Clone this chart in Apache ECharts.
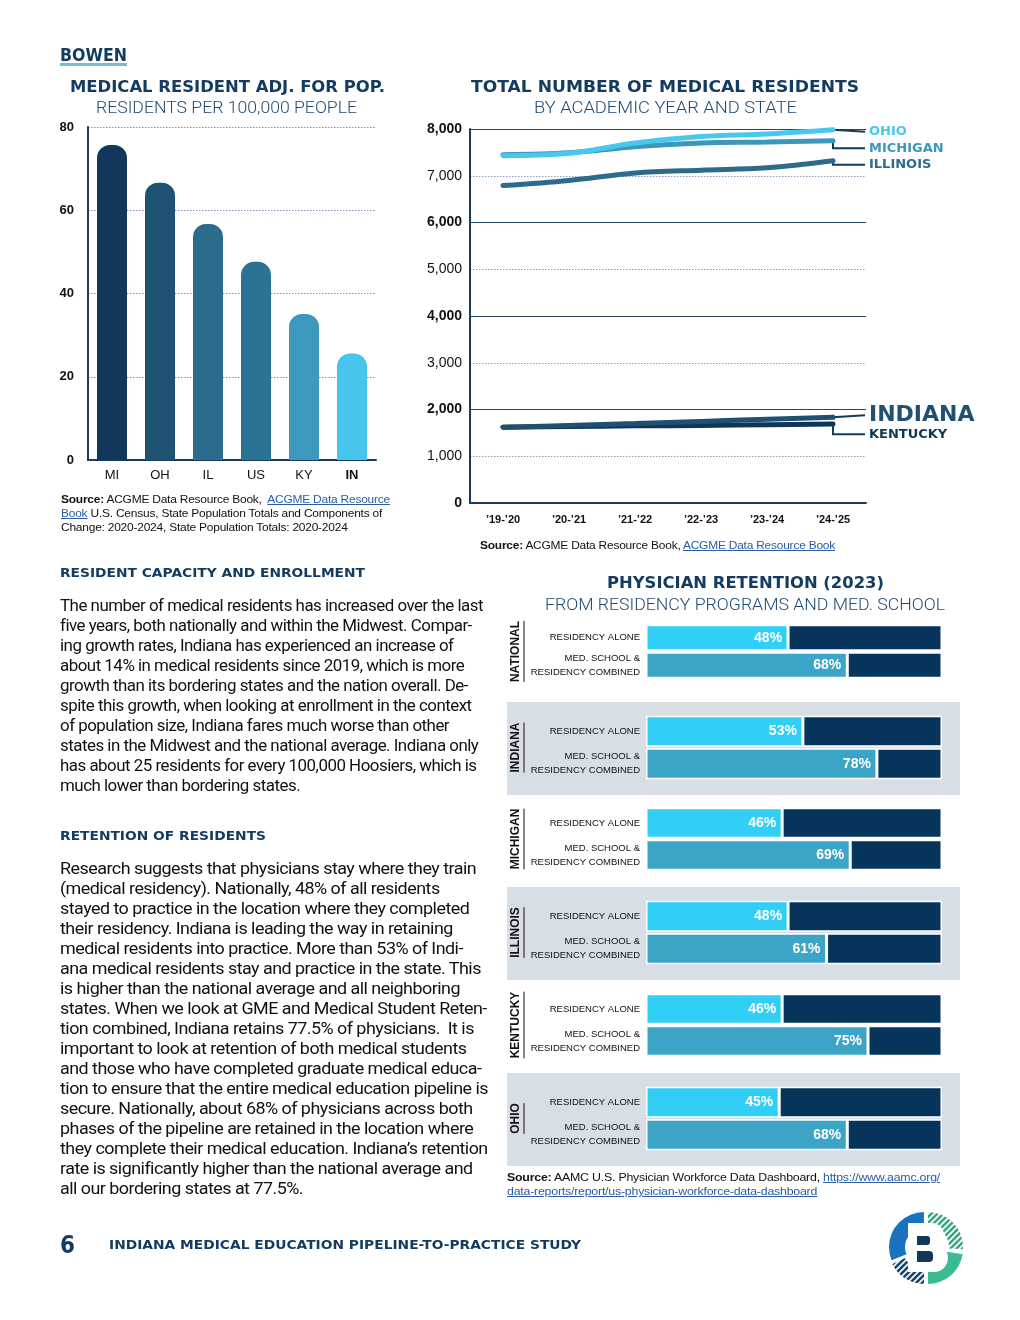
<!DOCTYPE html>
<html><head><meta charset="utf-8">
<script src="https://cdn.jsdelivr.net/npm/echarts/dist/echarts.min.js"></script>
<style>
html,body{margin:0;padding:0;background:#fff;}
#page{position:relative;width:1020px;height:1320px;overflow:hidden;background:#fff;}
#chart{position:absolute;left:0;top:0;width:1020px;height:1320px;}
.t{position:absolute;white-space:nowrap;transform-origin:0 0;}
a{color:#2a5ca6;text-decoration:underline;}
</style></head>
<body><div id="page"><div id="chart"></div></div>
<script>
// ---------- DATA ----------
const rateCategories = ['MI','OH','IL','US','KY','IN'];
const ratePer100k = [75.7, 66.6, 56.7, 47.6, 35.1, 25.6];
const rateHighlight = 'IN';

const years = ['\u201919-\u201920','\u201920-\u201921','\u201921-\u201922','\u201922-\u201923','\u201923-\u201924','\u201924-\u201925'];
const lineStates = ['OHIO','MICHIGAN','ILLINOIS','INDIANA','KENTUCKY'];
const ohio     = [7430, 7480, 7700, 7840, 7895, 7985];
const michigan = [7450, 7490, 7620, 7700, 7720, 7750];
const illinois = [6790, 6900, 7060, 7120, 7170, 7320];
const indiana  = [1620, 1660, 1700, 1745, 1790, 1835];
const kentucky = [1620, 1635, 1650, 1660, 1675, 1690];
const lineTicks = [0, 1000, 2000, 3000, 4000, 5000, 6000, 7000, 8000];

const retentionGroups = ['NATIONAL','INDIANA','MICHIGAN','ILLINOIS','KENTUCKY','OHIO'];
const retentionMeasures = ['RESIDENCY ALONE','MED. SCHOOL &\nRESIDENCY COMBINED'];
const residencyAlone    = [48, 53, 46, 48, 46, 45];
const medSchoolCombined = [68, 78, 69, 61, 75, 68];

// ---------- STYLES ----------
const NAVY = '#143c60';
const rateColors = ['#12375a','#1f5272','#2b6c8c','#2c7293','#3c98bc','#47c5ec'];
const lineColors = ['#48c8ee','#3c97bb','#2c6b8c','#1f5072','#0f3658'];
const lineData = [ohio, michigan, illinois, indiana, kentucky];
const cAlone = '#31cff5', cComb = '#3ca4c6', cRest = '#06345a';

// ---------- HTML TEXT ----------
const page = document.getElementById('page');
function place(html, x, yc, w, style, lh, center){
  const d = document.createElement('div');
  d.className = 't';
  d.innerHTML = html;
  Object.assign(d.style, style);
  d.style.lineHeight = lh + 'px';
  d.style.top = (yc - lh/2) + 'px';
  page.appendChild(d);
  const nat = d.getBoundingClientRect().width;
  d.style.left = (center ? x - w/2 : x) + 'px';
  d.style.transform = 'scaleX(' + (w/nat) + ')';
  return d;
}
const HEAD = {fontFamily:'"DejaVu Sans", sans-serif', fontWeight:'bold', color:NAVY};
const LIGHT = {fontFamily:'Roboto, "Liberation Sans", sans-serif', fontWeight:'300', color:'#1d4a72'};
const BODY = {fontFamily:'Roboto, "Liberation Sans", sans-serif', color:'#111', fontSize:'17px', letterSpacing:'-0.5px'};
const SRC = {fontFamily:'"Liberation Sans", sans-serif', color:'#111', fontSize:'11px', letterSpacing:'-0.2px'};

place('BOWEN', 60, 55, 67, Object.assign({}, HEAD, {fontSize:'18px', fontWeight:'900'}), 20);
const ul = document.createElement('div');
Object.assign(ul.style, {position:'absolute', left:'60px', top:'63px', width:'67px', height:'3px', background:'#74bfd6'});
page.appendChild(ul);

place('MEDICAL RESIDENT ADJ. FOR POP.', 227, 87, 315, Object.assign({}, HEAD, {fontSize:'15px'}), 18, true);
place('RESIDENTS PER 100,000 PEOPLE', 226, 108, 261, Object.assign({}, LIGHT, {fontSize:'16px'}), 18, true);
place('TOTAL NUMBER OF MEDICAL RESIDENTS', 665, 87, 388, Object.assign({}, HEAD, {fontSize:'15px'}), 18, true);
place('BY ACADEMIC YEAR AND STATE', 665, 108, 263, Object.assign({}, LIGHT, {fontSize:'16px'}), 18, true);
place('PHYSICIAN RETENTION (2023)', 745, 583, 277, Object.assign({}, HEAD, {fontSize:'16px'}), 18, true);
place('FROM RESIDENCY PROGRAMS AND MED. SCHOOL', 745, 605, 400, Object.assign({}, LIGHT, {fontSize:'16px'}), 18, true);

place('<b>Source:</b> ACGME Data Resource Book,&nbsp; <a>ACGME Data Resource</a><br><a>Book</a> U.S. Census, State Population Totals and Components of<br>Change: 2020-2024, State Population Totals: 2020-2024', 61, 499, 329, SRC, 14);
place('<b>Source:</b> ACGME Data Resource Book, <a>ACGME Data Resource Book</a>', 480, 545, 355, SRC, 14);
place('<b>Source:</b> AAMC U.S. Physician Workforce Data Dashboard, <a>https://www.aamc.org/</a><br><a>data-reports/report/us-physician-workforce-data-dashboard</a>', 507, 1177, 433, SRC, 14);

place('RESIDENT CAPACITY AND ENROLLMENT', 60, 573, 305, Object.assign({}, HEAD, {fontSize:'13px'}), 16);
place('RETENTION OF RESIDENTS', 60, 836, 206, Object.assign({}, HEAD, {fontSize:'13px'}), 16);

const p1 = ['The number of medical residents has increased over the last',
'five years, both nationally and within the Midwest. Compar-',
'ing growth rates, Indiana has experienced an increase of',
'about 14% in medical residents since 2019, which is more',
'growth than its bordering states and the nation overall. De-',
'spite this growth, when looking at enrollment in the context',
'of population size, Indiana fares much worse than other',
'states in the Midwest and the national average. Indiana only',
'has about 25 residents for every 100,000 Hoosiers, which is',
'much lower than bordering states.'];
const p2 = ['Research suggests that physicians stay where they train',
'(medical residency). Nationally, 48% of all residents',
'stayed to practice in the location where they completed',
'their residency. Indiana is leading the way in retaining',
'medical residents into practice. More than 53% of Indi-',
'ana medical residents stay and practice in the state. This',
'is higher than the national average and all neighboring',
'states. When we look at GME and Medical Student Reten-',
'tion combined, Indiana retains 77.5% of physicians.&nbsp; It is',
'important to look at retention of both medical students',
'and those who have completed graduate medical educa-',
'tion to ensure that the entire medical education pipeline is',
'secure. Nationally, about 68% of physicians across both',
'phases of the pipeline are retained in the location where',
'they complete their medical education. Indiana\u2019s retention',
'rate is significantly higher than the national average and',
'all our bordering states at 77.5%.'];
place(p1.join('<br>'), 60, 605, 423, BODY, 20);
place(p2.join('<br>'), 60, 868, 428, BODY, 20);

place('6', 60, 1245, 15, Object.assign({}, HEAD, {fontSize:'24px', fontWeight:'900'}), 26);
place('INDIANA MEDICAL EDUCATION PIPELINE-TO-PRACTICE STUDY', 109, 1245, 472, Object.assign({}, HEAD, {fontSize:'13px'}), 16);

// ---------- CHART ----------
const chart = echarts.init(document.getElementById('chart'), null, {renderer:'canvas'});

const retTops = [624, 715, 807, 900, 993, 1086];
const retHeights = [55, 65, 64, 65, 64, 65];

const grids = [
  {left:88, top:127, width:288, height:333},
  {left:470, top:129, width:396, height:374}
];
const xAxes = [
  {gridIndex:0, type:'category', data:rateCategories,
   axisLine:{lineStyle:{color:'#1b3b5c', width:2}}, axisTick:{show:false},
   axisLabel:{margin:9, fontSize:13, color:'#111', fontFamily:'Liberation Sans',
     formatter: v => v === rateHighlight ? '{b|' + v + '}' : v,
     rich:{b:{fontWeight:'bold', fontSize:13, color:'#111', fontFamily:'Liberation Sans'}}}},
  {gridIndex:1, type:'category', data:years, boundaryGap:true,
   axisLine:{lineStyle:{color:'#1b3b5c', width:2}}, axisTick:{show:false},
   axisLabel:{margin:11, fontSize:11, fontWeight:'bold', color:'#111', fontFamily:'Liberation Sans'}}
];
const yAxes = [
  {gridIndex:0, type:'value', min:0, max:80, interval:20,
   axisLine:{show:true, lineStyle:{color:'#1b3b5c', width:2}}, axisTick:{show:false},
   axisLabel:{margin:14, fontSize:13, fontWeight:'bold', color:'#111', fontFamily:'Liberation Sans'},
   splitLine:{show:true, lineStyle:{color:'#7f94b0', type:[1.5,1.5], width:1}}},
  {gridIndex:1, type:'value', min:lineTicks[0], max:lineTicks[lineTicks.length-1], interval:lineTicks[1]-lineTicks[0],
   axisLine:{show:true, lineStyle:{color:'#1b3b5c', width:2}}, axisTick:{show:false},
   axisLabel:{margin:8, fontSize:14, color:'#111', fontFamily:'Liberation Sans',
     formatter: v => (v % 2000 === 0 ? '{b|' : '{n|') + v.toLocaleString('en-US') + '}',
     rich:{b:{fontWeight:'bold', fontSize:14, color:'#111', fontFamily:'Liberation Sans'},
           n:{fontSize:14, color:'#111', fontFamily:'Liberation Sans'}}},
   splitLine:{show:true, lineStyle:{color:'#8aa0b8', type:[1.5,1.5], width:1}}},
  {gridIndex:1, type:'value', min:0, max:8000, interval:2000,
   axisLine:{show:false}, axisTick:{show:false}, axisLabel:{show:false},
   splitLine:{show:true, lineStyle:{color:'#23476b', width:1}}}
];
const series = [
  {type:'bar', xAxisIndex:0, yAxisIndex:0, barWidth:30,
   data: ratePer100k.map((v,i) => ({value:v, itemStyle:{color:rateColors[i], borderRadius:[13,13,0,0]}}))}
];
lineData.forEach((d, i) => {
  series.push({type:'line', name:lineStates[i], xAxisIndex:1, yAxisIndex:1, data:d, smooth:0.35,
    symbol:'none', z: 5 - i,
    lineStyle:{width:5, color:lineColors[i], cap:'round'}});
});
retentionGroups.forEach((g, i) => {
  grids.push({left:646, top:retTops[i], width:296, height:retHeights[i]});
  xAxes.push({gridIndex:2+i, type:'value', min:0, max:100, show:false});
  yAxes.push({gridIndex:2+i, type:'category', data:retentionMeasures, inverse:true,
    axisLine:{show:false}, axisTick:{show:false},
    axisLabel:{margin:6, fontSize:9.5, color:'#111', lineHeight:14, fontFamily:'Liberation Sans', align:'right'},
    name:g, nameLocation:'middle', nameRotate:90, nameGap:124,
    nameTextStyle:{fontSize:12, fontWeight:'bold', color:'#111', fontFamily:'Liberation Sans'}});
  series.push({type:'bar', stack:'r'+i, xAxisIndex:2+i, yAxisIndex:3+i, barCategoryGap:'5%',
    data:[{value:residencyAlone[i], itemStyle:{color:cAlone}}, {value:medSchoolCombined[i], itemStyle:{color:cComb}}],
    itemStyle:{borderColor:'#fff', borderWidth:1.5},
    label:{show:true, position:'insideRight', distance:6, formatter:'{c}%', color:'#fff', fontWeight:'bold', fontSize:14, fontFamily:'Liberation Sans'}});
  series.push({type:'bar', stack:'r'+i, xAxisIndex:2+i, yAxisIndex:3+i, barCategoryGap:'5%',
    data:[100 - residencyAlone[i], 100 - medSchoolCombined[i]],
    itemStyle:{color:cRest, borderColor:'#fff', borderWidth:1.5}});
});

// shaded panels for alternating groups
const graphics = [];
retentionGroups.forEach((g, i) => {
  if (i % 2 === 1) {
    graphics.push({type:'rect', z:-10, shape:{x:507, y:retTops[i]-13, width:453, height:93}, style:{fill:'#d7dee6'}});
  }
});

chart.setOption({animation:false, grid:grids, xAxis:xAxes, yAxis:yAxes, series:series, graphic:graphics});

// leader lines + end labels for line chart
const labelX = 869, leaderEnd = 865;
const ends = lineData.map((d, i) => chart.convertToPixel({seriesIndex:1+i}, [d.length-1, d[d.length-1]]));
const labY = [];
labY[0] = ends[0][1] + 2;
labY[1] = Math.max(ends[1][1], labY[0] + 16.5);
labY[2] = Math.max(ends[2][1], labY[1] + 16.5);
labY[3] = ends[3][1] - 2;
labY[4] = Math.max(ends[4][1], labY[3] + 19);
const lblSizes = [13, 13, 13, 22, 13];
lineStates.forEach((s, i) => {
  const [ex, ey] = ends[i];
  const pts = Math.abs(labY[i] - ey) > 2 ? [[ex, ey], [ex, labY[i]], [leaderEnd, labY[i]]] : [[ex, ey], [leaderEnd, labY[i]]];
  graphics.push({type:'polyline', z:2, shape:{points:pts}, style:{stroke:'#123a5c', lineWidth:2, fill:null}});
  graphics.push({type:'text', z:3, x:labelX, y:labY[i], style:{text:s, fill:lineColors[i], font:'900 ' + lblSizes[i] + 'px "DejaVu Sans"', verticalAlign:'middle', align:'left'}});
});

// underline for vertical group names
const mc = document.createElement('canvas').getContext('2d');
mc.font = 'bold 12px "Liberation Sans"';
retentionGroups.forEach((g, i) => {
  const w = mc.measureText(g).width;
  const cy = retTops[i] + retHeights[i] / 2;
  graphics.push({type:'line', shape:{x1:524, y1:cy - w/2, x2:524, y2:cy + w/2}, style:{stroke:'#111', lineWidth:1}});
});

// logo
function stripes(bg){
  const c = document.createElement('canvas'); c.width = 6; c.height = 6;
  const x = c.getContext('2d');
  x.fillStyle = bg; x.fillRect(0,0,6,6);
  x.strokeStyle = '#ffffff'; x.lineWidth = 1.6;
  x.beginPath(); x.moveTo(-1,7); x.lineTo(7,-1); x.stroke();
  x.beginPath(); x.moveTo(-1,1); x.lineTo(1,-1); x.stroke();
  x.beginPath(); x.moveTo(5,7); x.lineTo(7,5); x.stroke();
  return c;
}
const LX = 926, LY = 1247;
graphics.push({type:'sector', shape:{cx:LX-2, cy:LY, r:35, r0:19, startAngle:2.75, endAngle:4.71}, style:{fill:'#1b72bf'}});
graphics.push({type:'sector', shape:{cx:LX-2, cy:LY+2, r:35, r0:21, startAngle:1.57, endAngle:2.7}, style:{fill:{image:stripes('#17466b'), repeat:'repeat'}}});
graphics.push({type:'sector', shape:{cx:LX+2, cy:LY, r:35, r0:21, startAngle:4.71, endAngle:6.35}, style:{fill:{image:stripes('#3aa58a'), repeat:'repeat'}}});
graphics.push({type:'sector', shape:{cx:LX+2, cy:LY+2, r:35, r0:19, startAngle:0.15, endAngle:1.57}, style:{fill:'#3bbb94'}});
// white B body with navy counters
graphics.push({type:'rect', shape:{x:908, y:1223, width:24, height:49}, style:{fill:'#fff'}});
graphics.push({type:'rect', shape:{x:914, y:1223, width:30, height:24, r:[0,12,12,0]}, style:{fill:'#fff'}});
graphics.push({type:'rect', shape:{x:914, y:1244, width:34, height:28, r:[0,14,14,0]}, style:{fill:'#fff'}});
graphics.push({type:'rect', shape:{x:917, y:1236, width:13, height:9, r:[0,3,3,0]}, style:{fill:'#12375a'}});
graphics.push({type:'rect', shape:{x:917, y:1251, width:16, height:11, r:[0,4,4,0]}, style:{fill:'#12375a'}});

chart.setOption({graphic:graphics});
</script>
</body></html>
